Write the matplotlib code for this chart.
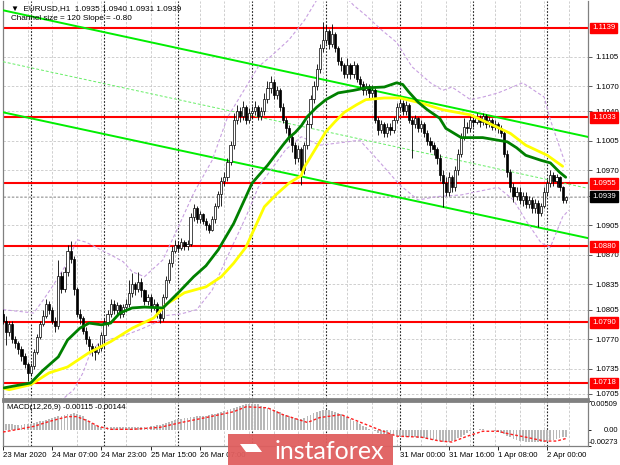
import matplotlib
matplotlib.use("Agg")
import matplotlib.pyplot as plt
import matplotlib.transforms as mtransforms
from matplotlib.patches import Rectangle, Polygon
import numpy as np

plt.rcParams["font.family"] = ["Liberation Sans", "DejaVu Sans"]

# prices are written as pips above BASE
BASE = 1.0700
PIP = 0.0001

# EURUSD H1 candles, bar 0 = 23 Mar 15:00
open0 = 100
close_p = [92, 78, 88, 70, 65, 58, 50, 40,
           30, 38, 55, 72, 88, 98, 112, 104,
           92, 85, 145, 130, 150, 175, 165, 130,
           100, 95, 80, 70, 62, 58, 55, 60,
           75, 90, 100, 112, 105, 110, 100, 108,
           112, 125, 135, 130, 138, 128, 115, 120,
           108, 112, 100, 95, 120, 140, 160, 175,
           182, 178, 185, 180, 183, 215, 225, 212,
           218, 210, 205, 200, 212, 228, 242, 258,
           262, 280, 300, 330, 340, 335, 345, 330,
           338, 340, 345, 335, 340, 355, 368, 375,
           360, 365, 345, 330, 320, 310, 300, 285,
           295, 270, 300, 325, 355, 370, 390, 415,
           425, 435, 420, 432, 415, 400, 395, 385,
           395, 385, 395, 378, 372, 365, 370, 362,
           365, 330, 318, 325, 315, 322, 318, 330,
           345, 350, 340, 348, 330, 325, 332, 320,
           325, 315, 305, 300, 295, 285, 265, 255,
           245, 262, 250, 270, 290, 310, 322, 320,
           330, 328, 332, 328, 335, 325, 330, 322,
           325, 320, 315, 290, 268, 250, 240, 245,
           235, 240, 230, 235, 225, 232, 220, 228,
           245, 255, 265, 258, 262, 250, 235, 239]
high_p = [106, 98, 92, 92, 74, 68, 62, 54,
          43, 42, 58, 76, 92, 104, 118, 115,
          108, 96, 164, 150, 156, 182, 186, 168,
          132, 106, 98, 84, 74, 66, 62, 66,
          78, 95, 104, 118, 116, 114, 112, 112,
          118, 140, 148, 138, 150, 142, 130, 124,
          124, 118, 114, 102, 124, 145, 165, 180,
          188, 186, 190, 188, 188, 220, 230, 228,
          222, 220, 214, 208, 216, 232, 246, 262,
          268, 285, 305, 338, 348, 345, 352, 348,
          344, 346, 352, 348, 345, 362, 376, 382,
          378, 370, 368, 350, 334, 324, 314, 304,
          300, 298, 304, 330, 360, 376, 396, 420,
          446, 442, 438, 444, 434, 418, 404, 398,
          403, 398, 400, 398, 382, 376, 374, 372,
          371, 368, 334, 330, 328, 326, 326, 334,
          350, 356, 354, 352, 350, 334, 336, 334,
          330, 328, 318, 310, 304, 298, 290, 270,
          262, 268, 265, 275, 295, 315, 332, 328,
          336, 334, 338, 336, 338, 337, 334, 332,
          330, 328, 324, 318, 294, 272, 255, 250,
          250, 245, 244, 240, 238, 236, 235, 232,
          250, 260, 270, 268, 266, 264, 252, 240]
low_p = [88, 63, 74, 66, 60, 52, 44, 36,
         20, 26, 35, 52, 70, 85, 95, 100,
         88, 78, 82, 125, 126, 145, 160, 122,
         96, 88, 76, 64, 56, 50, 45, 52,
         56, 60, 86, 96, 100, 100, 95, 96,
         102, 108, 120, 122, 126, 120, 110, 110,
         102, 104, 95, 89, 92, 118, 136, 156,
         172, 174, 176, 176, 176, 180, 210, 208,
         208, 206, 200, 196, 198, 208, 226, 228,
         252, 258, 276, 296, 325, 328, 330, 325,
         326, 332, 336, 330, 330, 336, 350, 362,
         355, 355, 340, 326, 314, 304, 292, 278,
         280, 253, 266, 296, 320, 350, 365, 386,
         410, 420, 414, 416, 410, 395, 388, 380,
         380, 378, 380, 375, 368, 360, 360, 356,
         356, 326, 312, 314, 310, 310, 312, 314,
         326, 340, 336, 336, 326, 285, 320, 316,
         316, 310, 300, 292, 288, 278, 258, 227,
         240, 240, 244, 246, 265, 286, 306, 314,
         316, 322, 325, 322, 324, 320, 322, 318,
         318, 314, 310, 286, 262, 244, 233, 235,
         230, 228, 225, 226, 220, 220, 203, 216,
         225, 240, 250, 252, 250, 246, 232, 231]

# moving averages (bar index, pips)
green_i = [0, 9, 13, 18, 21, 25, 28, 32, 35, 38, 42, 46, 52, 57, 62, 66, 70, 75, 81, 86,
           91, 93, 95, 97, 99, 102, 105, 109, 114, 118, 124, 128, 130, 132, 135, 138, 142, 144,
           149, 156, 164, 167, 170, 175, 178, 181, 183]
green_p = [12, 18, 33, 49, 69, 83, 89, 87, 89, 101, 107, 108, 107, 125, 144, 157, 176, 207, 255, 276,
           300, 309, 315, 323, 334, 345, 354, 362, 365, 368, 369, 374, 372, 363, 351, 342, 332, 320,
           309, 309, 304, 297, 288, 282, 279, 268, 262]
yellow_i = [0, 2, 9, 15, 21, 28, 35, 42, 49, 53, 59, 66, 71, 75, 79, 82, 85, 89, 93, 97,
            98, 102, 105, 108, 111, 115, 118, 124, 129, 136, 143, 152, 158, 165, 170, 177, 182]
yellow_p = [12, 10, 16, 30, 37, 54, 67, 83, 95, 111, 125, 132, 144, 160, 179, 203, 227, 242, 255, 264,
            274, 298, 316, 328, 339, 348, 354, 356, 356, 350, 342, 336, 326, 314, 300, 288, 275]

# bands (purple dashed)
up_i = [0, 10, 13, 16, 21, 24, 27, 35, 39, 42, 46, 52, 57, 62, 68, 73, 79, 83, 87, 93,
        98, 102, 111, 114, 118, 123, 128, 133, 139, 143, 146, 152, 156, 161, 169, 176, 178, 181, 183]
up_p = [105, 101, 116, 132, 161, 188, 185, 170, 162, 150, 144, 164, 203, 243, 282, 333, 369, 393, 405, 425,
        448, 472, 478, 466, 454, 437, 422, 393, 374, 365, 369, 354, 357, 362, 374, 357, 330, 298, 277]
lo_i = [0, 15, 23, 26, 28, 31, 35, 40, 45, 50, 53, 58, 63, 68, 73, 79, 83, 88, 92, 97,
        103, 110, 116, 122, 129, 135, 141, 149, 161, 166, 170, 175, 178, 182, 184]
lo_p = [-20, -15, 10, 30, 50, 65, 70, 75, 82, 90, 98, 100, 105, 128, 168, 215, 250, 275, 295, 310,
        300, 303, 306, 282, 253, 235, 239, 241, 250, 235, 211, 184, 179, 215, 223]

# regression channel: start/end bar and pips of upper, middle, lower lines
chan_i = [0, 190]
chan_up = [460, 310]
chan_mid = [399, 249]
chan_lo = [339, 190]

levels = [1.1139, 1.1033, 1.0955, 1.0880, 1.0790, 1.0718]
price_ticks = [1.1105, 1.1070, 1.1040, 1.1005, 1.0970, 1.0940, 1.0905, 1.0870,
               1.0835, 1.0805, 1.0770, 1.0735, 1.0705]
price_labels = ["1.1105", "1.1070", "1.1040", "1.1005", "1.0970", "", "1.0905", "1.0870",
                "1.0835", "1.0805", "1.0770", "1.0735", "1.0705"]
last_price = 1.0939

day_sep = [9, 33, 57, 81, 105, 129, 153, 177]
time_idx = [0, 16, 32, 48, 64, 129, 145, 161, 177]
time_txt = ["23 Mar 2020", "24 Mar 07:00", "24 Mar 23:00", "25 Mar 15:00", "26 Mar 07:00",
            "31 Mar 00:00", "31 Mar 16:00", "1 Apr 08:00", "2 Apr 00:00"]

# MACD main (1e-5) per bar, signal sampled
macd = [110, 110, 108, 105, 100, 100, 100, 105, 110, 115,
        125, 140, 155, 170, 185, 200, 215, 230, 245, 255,
        260, 275, 290, 300, 290, 270, 240, 200, 160, 120, 90,
        70, 60, 55, 55, 60, 60, 55, 50, 50, 55, 60, 65, 65, 60, 60, 55, 60,
        70, 80, 90, 100, 115, 130,
        145, 160, 175, 190, 200, 210, 220, 225,
        235, 240, 245, 250, 255, 265, 275, 285, 300, 315, 330, 345,
        370, 390, 410, 430, 445, 455, 460, 465, 460, 450,
        430, 410, 395, 380, 360, 335, 310, 290, 270, 250, 230, 215, 200,
        195, 210, 240, 270, 300, 320, 335, 345, 350, 345,
        335, 320, 300, 280, 255, 230, 200, 170, 140, 110, 80, 50, 25,
        0, -20, -40, -60, -70, -80, -85, -90, -95, -100,
        -105, -110, -115, -120, -125, -130, -135, -140, -150, -160, -170, -180, -190, -195, -200, -195,
        -185, -165, -140, -110, -80, -50,
        -20, 0, 10, 15, 15, 10, 5, 0, -10, -25,
        -45, -70, -95, -120, -145, -165, -180, -190, -200, -205, -210, -210, -205,
        -200, -195, -185, -175, -165, -150, -140, -125, -115]
sig_i = [0, 5, 10, 15, 21, 24, 28, 31, 35, 42, 51, 58, 66, 75, 79, 86, 91, 99, 103, 110,
         114, 122, 128, 136, 142, 146, 151, 156, 161, 165, 170, 176, 180, 183]
sig_v = [-30, 17, 68, 153, 238, 238, 153, 68, 17, 17, 51, 136, 221, 323, 408, 391, 272, 136, 221, 272,
         187, 17, -102, -119, -187, -204, -102, -17, -17, -68, -119, -187, -187, -144]
macd_ticks = [0.00509, 0.0, -0.00273]
macd_labels = ["0.00509", "0.00", "-0.00273"]

# ---- figure
W, H = 620, 465
fig = plt.figure(figsize=(W / 100, H / 100), dpi=100)
fig.patch.set_facecolor("white")
FS = 5.6

ax = fig.add_axes([3 / W, 66 / H, 585 / W, 398 / H])
ax2 = fig.add_axes([3 / W, 19 / H, 585 / W, 45 / H])
XMAX = 585 / 3.075
for a in (ax, ax2):
    a.set_xlim(0, XMAX)
    for s in a.spines.values():
        s.set_color("#808080")
        s.set_linewidth(0.9)
ax.spines["top"].set_visible(False)
ax.spines["bottom"].set_linewidth(2)
ax2.spines["top"].set_linewidth(2)

to_px = lambda p: BASE + np.asarray(p) * PIP
ax.set_ylim(1.0699, 1.1171)

# grid
ax.set_yticks(price_ticks)
ax.set_yticklabels(price_labels)
ax.yaxis.tick_right()
ax.tick_params(axis="y", length=3, width=0.6, color="#404040", labelsize=FS, pad=2)
ax.set_xticks(range(0, 191, 8))
ax.tick_params(axis="x", length=0, labelbottom=False)
ax.grid(True, color="#c8c8c8", ls=(0, (3, 2)), lw=0.6)
ax2.set_xticks(range(0, 191, 8), minor=True)
ax2.tick_params(axis="x", which="minor", length=0)
ax2.grid(True, which="minor", axis="x", color="#c8c8c8", ls=(0, (3, 2)), lw=0.6)
for d in day_sep:
    ax.axvline(d, color="#202020", ls=(0, (1.5, 1.5)), lw=0.8, zorder=1)
    ax2.axvline(d, color="#202020", ls=(0, (1.5, 1.5)), lw=0.8, zorder=1)

# red levels
for lv in levels:
    ax.axhline(lv, color="#ff0000", lw=1.5, zorder=2)
ax.axhline(last_price, color="#a0a0a0", ls=(0, (3, 2)), lw=0.6, zorder=1)

# channel
ax.plot(chan_i, to_px(chan_up), color="#00ee00", lw=1.4, zorder=3)
ax.plot(chan_i, to_px(chan_lo), color="#00ee00", lw=1.4, zorder=3)
ax.plot(chan_i, to_px(chan_mid), color="#66ee66", lw=0.7, ls=(0, (3, 2)), zorder=3)

# bands
ax.plot(up_i, to_px(up_p), color="#c8a0e0", lw=0.8, ls=(0, (3, 2)), zorder=3)
ax.plot(lo_i, to_px(lo_p), color="#c8a0e0", lw=0.8, ls=(0, (3, 2)), zorder=3)

# candles
idx = np.arange(len(close_p))
c = to_px(close_p)
o = to_px([open0] + close_p[:-1])
hi = to_px(high_p)
lo = to_px(low_p)
ax.vlines(idx, lo, hi, color="#000000", lw=0.6, zorder=4)
body = np.where(np.abs(c - o) < 0.00004, 0.00004, c - o)
up = c >= o
ax.bar(idx[up], body[up], bottom=o[up], width=0.7, color="white", edgecolor="black", lw=0.5, zorder=5)
ax.bar(idx[~up], body[~up], bottom=o[~up], width=0.7, color="black", edgecolor="black", lw=0.5, zorder=5)

# moving averages
ax.plot(yellow_i, to_px(yellow_p), color="#ffff00", lw=2, zorder=6, solid_capstyle="round")
ax.plot(green_i, to_px(green_p), color="#008000", lw=2, zorder=6, solid_capstyle="round")

# right labels
tr = mtransforms.blended_transform_factory(ax.transAxes, ax.transData)
for lv in levels:
    ax.text(1.007, lv, f"{lv:.4f}", transform=tr, fontsize=FS, color="white", va="center", ha="left",
            bbox=dict(boxstyle="square,pad=0.25", fc="#ff0000", ec="#ff0000"), zorder=10, clip_on=False)
ax.text(1.007, last_price, f"{last_price:.4f}", transform=tr, fontsize=FS, color="white", va="center",
        ha="left", bbox=dict(boxstyle="square,pad=0.25", fc="black", ec="black"), zorder=10, clip_on=False)

ax.text(0.014, 0.99, "\u25bc  EURUSD,H1  1.0935 1.0940 1.0931 1.0939", transform=ax.transAxes,
        fontsize=FS + 0.3, va="top", ha="left", zorder=11)
ax.text(0.014, 0.965, "Channel size = 120 Slope = -0.80", transform=ax.transAxes,
        fontsize=FS + 0.3, va="top", ha="left", zorder=11)

# MACD
ax2.set_ylim(-0.00273, 0.00509)
ax2.bar(idx, np.array(macd) * 1e-5, width=0.6, color="#b8b8b8", zorder=2)
ax2.plot(sig_i, np.array(sig_v) * 1e-5, color="#ff2020", lw=1, ls=(0, (2, 1.5)), zorder=3)
ax2.set_yticks(macd_ticks)
ax2.set_yticklabels([])
ax2.yaxis.tick_right()
ax2.tick_params(axis="y", length=2, width=0.6)
tr2 = mtransforms.blended_transform_factory(fig.transFigure, ax2.transData)
for v, lab, va in zip(macd_ticks, macd_labels, ["top", "center", "bottom"]):
    ax2.text(618 / W, v, lab, transform=tr2, fontsize=FS - 0.2, ha="right", va=va, clip_on=False)
ax2.set_xticks(time_idx)
ax2.set_xticklabels(time_txt, ha="left")
ax2.tick_params(axis="x", length=3, width=0.6, labelsize=FS, pad=1.5)
ax2.text(0.006, 0.93, "MACD(12,26,9) -0.00115 -0.00144", transform=ax2.transAxes,
         fontsize=FS, va="top", ha="left")

# logo
fig.add_artist(Rectangle((228 / W, 0), 165 / W, 31 / H, transform=fig.transFigure,
                         fc="#e05f5f", ec="none", alpha=0.95, zorder=20))
fig.add_artist(Polygon([(240 / W, 21 / H), (256 / W, 21 / H), (262 / W, 13 / H),
                        (246 / W, 13 / H)], closed=True, transform=fig.transFigure,
                       fc="white", ec="none", zorder=21))
fig.text(329 / W, 14 / H, "instaforex", color="white", fontsize=18, family="Lato",
         ha="center", va="center", zorder=22)

fig.savefig("out.png", dpi=100)
